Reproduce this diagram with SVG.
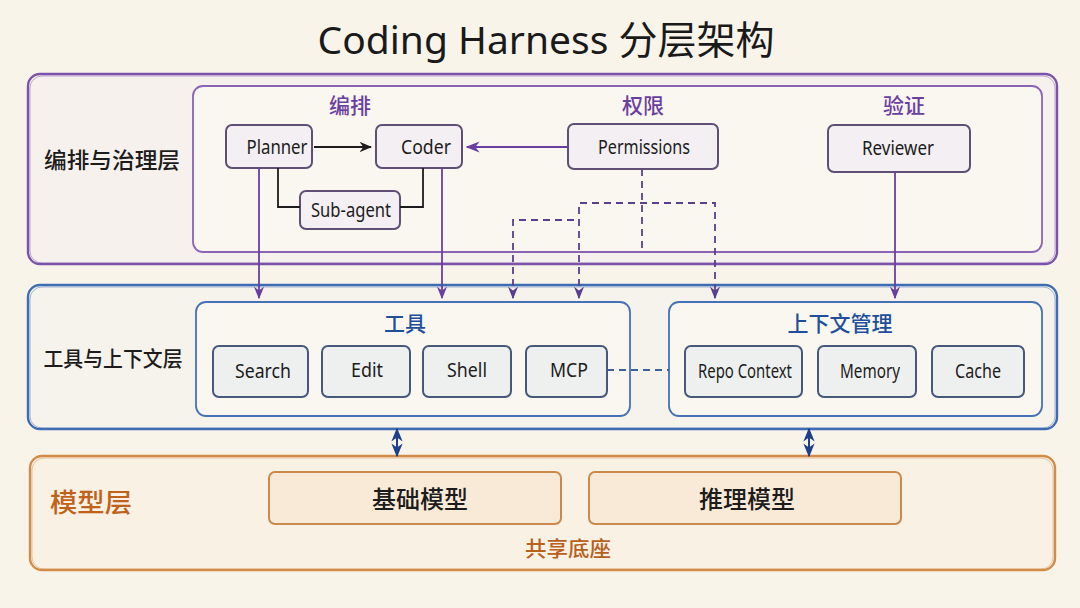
<svg xmlns="http://www.w3.org/2000/svg" width="1080" height="608" viewBox="0 0 1080 608">
<defs>
<style>
.t{font-family:"Noto Sans","Noto Sans CJK SC",sans-serif;text-anchor:middle;dominant-baseline:central}
.cn{font-family:"Noto Sans CJK SC",sans-serif;text-anchor:middle;dominant-baseline:central}
.pOuter{fill:#f7f1ee;stroke:#7b53aa;stroke-width:2.4}
.pInner{fill:#faf6f0;stroke:#8a63b5;stroke-width:1.8}
.pNode{fill:#f3eff3;stroke:#5f4f74;stroke-width:2}
.bOuter{fill:#f6f3ec;stroke:#3f6db3;stroke-width:2.4}
.bInner{fill:#faf7f0;stroke:#4672b5;stroke-width:1.8}
.bNode{fill:#eef0f0;stroke:#46597a;stroke-width:2}
.oOuter{fill:#f9f1e4;stroke:#d38b48;stroke-width:2.4}
.oNode{fill:#f9ead8;stroke:#c98a4c;stroke-width:2}
.ghost{fill:none;stroke-width:1;opacity:0.45}
.lbl{font-size:19px;fill:#1c1c1c}
.sec{font-size:21px;font-weight:500}
</style>
<marker id="ahP" viewBox="0 0 10 10" refX="9" refY="5" markerWidth="7" markerHeight="7" orient="auto-start-reverse"><path d="M0,1 L10,5 L0,9 L3,5 Z" fill="#6a3fa0"/></marker>
<marker id="ahK" viewBox="0 0 10 10" refX="9" refY="5" markerWidth="7" markerHeight="7" orient="auto-start-reverse"><path d="M0,1 L10,5 L0,9 L3,5 Z" fill="#1c1c1c"/></marker>
<marker id="ahD" viewBox="0 0 10 10" refX="9" refY="5" markerWidth="7" markerHeight="7" orient="auto-start-reverse"><path d="M0,1 L10,5 L0,9 L3,5 Z" fill="#5a3f8c"/></marker>
<marker id="ahB" viewBox="0 0 10 10" refX="9" refY="5" markerWidth="7" markerHeight="7" orient="auto-start-reverse"><path d="M0,1 L10,5 L0,9 L3,5 Z" fill="#1f3f8a"/></marker>
</defs>
<rect width="1080" height="608" fill="#f8f4ea"/>

<text class="t" x="546" y="38" font-size="39" fill="#1a1a1a">Coding Harness 分层架构</text>

<!-- Layer 1 -->
<g id="layer-orchestration">
<rect class="pOuter" x="28" y="74" width="1029" height="190" rx="12"/>
<rect class="ghost" stroke="#7b53aa" x="30" y="76" width="1025" height="187" rx="12"/>
<text class="cn" x="112" y="158" font-size="22" font-weight="500" fill="#1c1c1c" textLength="136" lengthAdjust="spacingAndGlyphs">编排与治理层</text>
<rect class="pInner" x="193" y="86" width="849" height="166" rx="10"/>
<text class="cn sec" x="350" y="104" fill="#6b3fa0">编排</text>
<text class="cn sec" x="643" y="104" fill="#6b3fa0">权限</text>
<text class="cn sec" x="904" y="104" fill="#6b3fa0">验证</text>
</g>

<!-- Layer 2 -->
<g id="layer-tools">
<rect class="bOuter" x="28" y="285" width="1029" height="144" rx="12"/>
<rect class="ghost" stroke="#3f6db3" x="30" y="287" width="1025" height="141" rx="12"/>
<text class="cn" x="113" y="357" font-size="21" font-weight="500" fill="#1c1c1c" textLength="139" lengthAdjust="spacingAndGlyphs">工具与上下文层</text>
<rect class="bInner" x="196" y="302" width="434" height="114" rx="10"/>
<text class="cn sec" x="405" y="322" fill="#1f4f9a">工具</text>
<rect class="bInner" x="669" y="302" width="373" height="114" rx="10"/>
<text class="cn sec" x="840" y="322" fill="#1f4f9a">上下文管理</text>
</g>

<!-- Layer 3 -->
<g id="layer-model">
<rect class="oOuter" x="30" y="456" width="1025" height="114" rx="12"/>
<rect class="ghost" stroke="#d38b48" x="32" y="458" width="1021" height="111" rx="12"/>
<text class="cn" x="91" y="500" font-size="26" font-weight="500" fill="#c0621a" textLength="82" lengthAdjust="spacingAndGlyphs">模型层</text>
<text class="cn" x="568" y="547" font-size="21" font-weight="500" fill="#b8601c" textLength="86" lengthAdjust="spacingAndGlyphs">共享底座</text>
</g>

<g id="node-planner"><rect class="pNode" x="226" y="125" width="86" height="43" rx="6"/><text class="t lbl" x="277" y="147" textLength="61" lengthAdjust="spacingAndGlyphs">Planner</text></g>
<g id="node-coder"><rect class="pNode" x="376" y="125" width="86" height="43" rx="6"/><text class="t lbl" x="426" y="147" textLength="50" lengthAdjust="spacingAndGlyphs">Coder</text></g>
<g id="node-subagent"><rect class="pNode" x="300" y="191" width="100" height="38" rx="6"/><text class="t lbl" x="351" y="210" textLength="80" lengthAdjust="spacingAndGlyphs">Sub-agent</text></g>
<g id="node-permissions"><rect class="pNode" x="568" y="124" width="150" height="45" rx="6"/><text class="t lbl" x="644" y="147" textLength="92" lengthAdjust="spacingAndGlyphs">Permissions</text></g>
<g id="node-reviewer"><rect class="pNode" x="828" y="125" width="142" height="47" rx="6"/><text class="t lbl" x="898" y="148" textLength="72" lengthAdjust="spacingAndGlyphs">Reviewer</text></g>

<g id="node-search"><rect class="bNode" x="213" y="346" width="95" height="51" rx="6"/><text class="t lbl" x="263" y="371" textLength="56" lengthAdjust="spacingAndGlyphs">Search</text></g>
<g id="node-edit"><rect class="bNode" x="322" y="346" width="88" height="51" rx="6"/><text class="t lbl" x="367" y="370" textLength="32" lengthAdjust="spacingAndGlyphs">Edit</text></g>
<g id="node-shell"><rect class="bNode" x="423" y="346" width="88" height="51" rx="6"/><text class="t lbl" x="467" y="370" textLength="40" lengthAdjust="spacingAndGlyphs">Shell</text></g>
<g id="node-mcp"><rect class="bNode" x="526" y="346" width="81" height="51" rx="6"/><text class="t lbl" x="569" y="370" textLength="38" lengthAdjust="spacingAndGlyphs">MCP</text></g>
<g id="node-repo"><rect class="bNode" x="685" y="346" width="117" height="51" rx="6"/><text class="t lbl" x="745" y="371" textLength="94" lengthAdjust="spacingAndGlyphs">Repo Context</text></g>
<g id="node-memory"><rect class="bNode" x="818" y="346" width="98" height="51" rx="6"/><text class="t lbl" x="870" y="371" textLength="60" lengthAdjust="spacingAndGlyphs">Memory</text></g>
<g id="node-cache"><rect class="bNode" x="932" y="346" width="92" height="51" rx="6"/><text class="t lbl" x="978" y="371" textLength="46" lengthAdjust="spacingAndGlyphs">Cache</text></g>

<g id="node-base"><rect class="oNode" x="269" y="472" width="292" height="52" rx="6"/><text class="cn" x="420" y="497" font-size="24" font-weight="500" fill="#1c1c1c" textLength="96" lengthAdjust="spacingAndGlyphs">基础模型</text></g>
<g id="node-reasoning"><rect class="oNode" x="589" y="472" width="312" height="52" rx="6"/><text class="cn" x="747" y="497" font-size="24" font-weight="500" fill="#1c1c1c" textLength="96" lengthAdjust="spacingAndGlyphs">推理模型</text></g>

<g id="connectors" fill="none">
<line x1="314" y1="147" x2="371" y2="147" stroke="#1c1c1c" stroke-width="1.8" marker-end="url(#ahK)"/>
<line x1="568" y1="147" x2="467" y2="147" stroke="#6a3fa0" stroke-width="2" marker-end="url(#ahP)"/>
<polyline points="278,168 278,207 300,207" stroke="#1c1c1c" stroke-width="1.8"/>
<polyline points="423,168 423,207 400,207" stroke="#1c1c1c" stroke-width="1.8"/>
<line x1="259" y1="168" x2="259" y2="298" stroke="#6a3fa0" stroke-width="1.8" marker-end="url(#ahP)"/>
<line x1="442" y1="168" x2="442" y2="298" stroke="#6a3fa0" stroke-width="1.8" marker-end="url(#ahP)"/>
<line x1="895" y1="172" x2="895" y2="298" stroke="#6a3fa0" stroke-width="1.8" marker-end="url(#ahP)"/>
<g stroke="#5a3f8c" stroke-width="1.8" stroke-dasharray="7,5">
<line x1="642" y1="169" x2="642" y2="251"/>
<polyline points="579,298 579,203 715,203 715,298" marker-start="url(#ahD)" marker-end="url(#ahD)"/>
<polyline points="513,298 513,220 579,220" marker-start="url(#ahD)"/>
</g>
<line x1="607" y1="370" x2="669" y2="370" stroke="#3f5f9a" stroke-width="1.8" stroke-dasharray="7,5"/>
<line x1="397" y1="429" x2="397" y2="456" stroke="#1f3f8a" stroke-width="2" marker-start="url(#ahB)" marker-end="url(#ahB)"/>
<line x1="809" y1="429" x2="809" y2="456" stroke="#1f3f8a" stroke-width="2" marker-start="url(#ahB)" marker-end="url(#ahB)"/>
</g>
</svg>
